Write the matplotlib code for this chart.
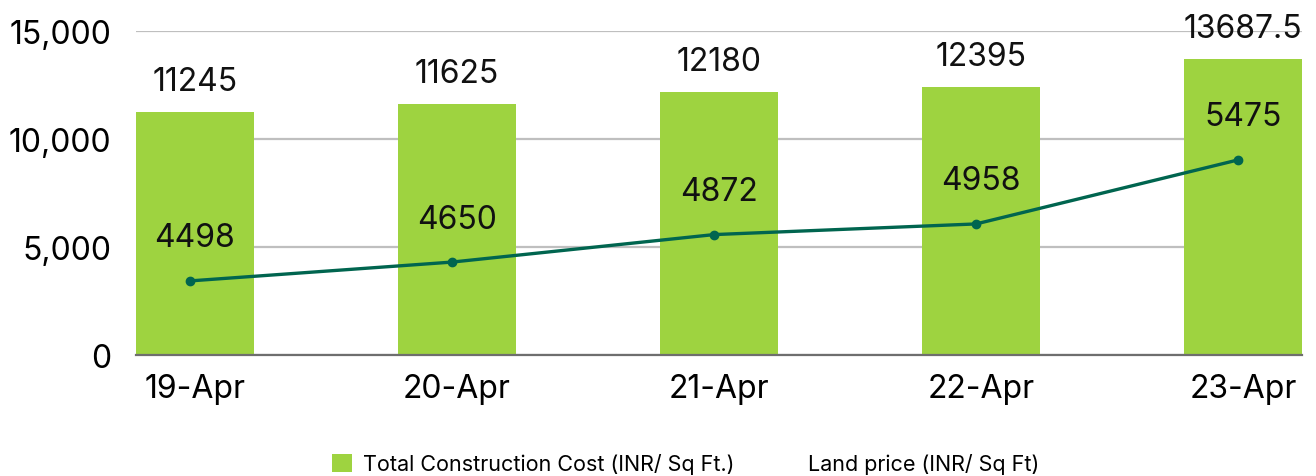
import matplotlib
matplotlib.use("Agg")
import matplotlib.pyplot as plt
import matplotlib.transforms as mtransforms
from matplotlib.lines import Line2D
from matplotlib.patches import Patch

plt.rcParams['font.family'] = ['Inter', 'DejaVu Sans']

categories = ["19-Apr", "20-Apr", "21-Apr", "22-Apr", "23-Apr"]
construction_cost = [11245, 11625, 12180, 12395, 13687.5]
land_price = [4498, 4650, 4872, 4958, 5475]
cost_labels = ["11245", "11625", "12180", "12395", "13687.5"]
land_labels = ["4498", "4650", "4872", "4958", "5475"]

bar_color = "#9ED340"
line_color = "#00654F"

fig = plt.figure(figsize=(13.16, 4.77), dpi=100)
ax = fig.add_axes([0.1033, 0.2537, 0.8861, 0.6793])
x = list(range(len(categories)))

ax.bar(x, construction_cost, width=0.45, color=bar_color, zorder=2)
ax.set_xlim(-0.225, len(categories) - 1 + 0.225)
ax.set_ylim(0, 15000)
ax.set_yticks([0, 5000, 10000, 15000])
ax.set_yticklabels(["0", "5,000", "10,000", "15,000"])
ax.set_xticks(x)
ax.set_xticklabels(categories)
ax.tick_params(axis='y', length=0, pad=18, labelsize=23)
ax.tick_params(axis='x', length=0, pad=13, labelsize=23)
ax.grid(axis='y', color="#BFBFBF", linewidth=1.6, zorder=0)
for s in ["top", "right", "left"]:
    ax.spines[s].set_visible(False)
ax.spines["bottom"].set_color("#6E6E6E")
ax.spines["bottom"].set_linewidth(1.6)
ax.spines["bottom"].set_zorder(3)

for xi, v, lab in zip(x, construction_cost, cost_labels):
    ax.annotate(lab, (xi, v), xytext=(0, 22), textcoords="offset points",
                ha="center", va="center", fontsize=23, color="#111111",
                annotation_clip=False)

ax2 = ax.twinx()
# the line sits a few pixels left of the bar centres in the original
line_tr = mtransforms.offset_copy(ax2.transData, fig=fig, x=-5, y=0, units='dots')
ax2.plot(x, land_price, color=line_color, linewidth=2.4, marker="o",
         markersize=6, zorder=4, transform=line_tr)
ax2.set_ylim(3900, 6516)
ax2.axis("off")

for xi, v, lab in zip(x, land_price, land_labels):
    ax2.annotate(lab, (xi, v), xytext=(0, 31), textcoords="offset points",
                 ha="center", va="center", fontsize=23, color="#111111")

handles = [Patch(facecolor=bar_color, edgecolor="none"),
           Line2D([], [], color="none")]
fig.legend(handles, ["Total Construction Cost (INR/ Sq Ft.)", "Land price (INR/ Sq Ft)"],
           loc="center", bbox_to_anchor=(0.521, 0.026), ncol=2, frameon=False,
           fontsize=15.5, handlelength=0.93, handleheight=0.93, columnspacing=2.0,
           handletextpad=0.5)

fig.savefig("out.png", dpi=100)
